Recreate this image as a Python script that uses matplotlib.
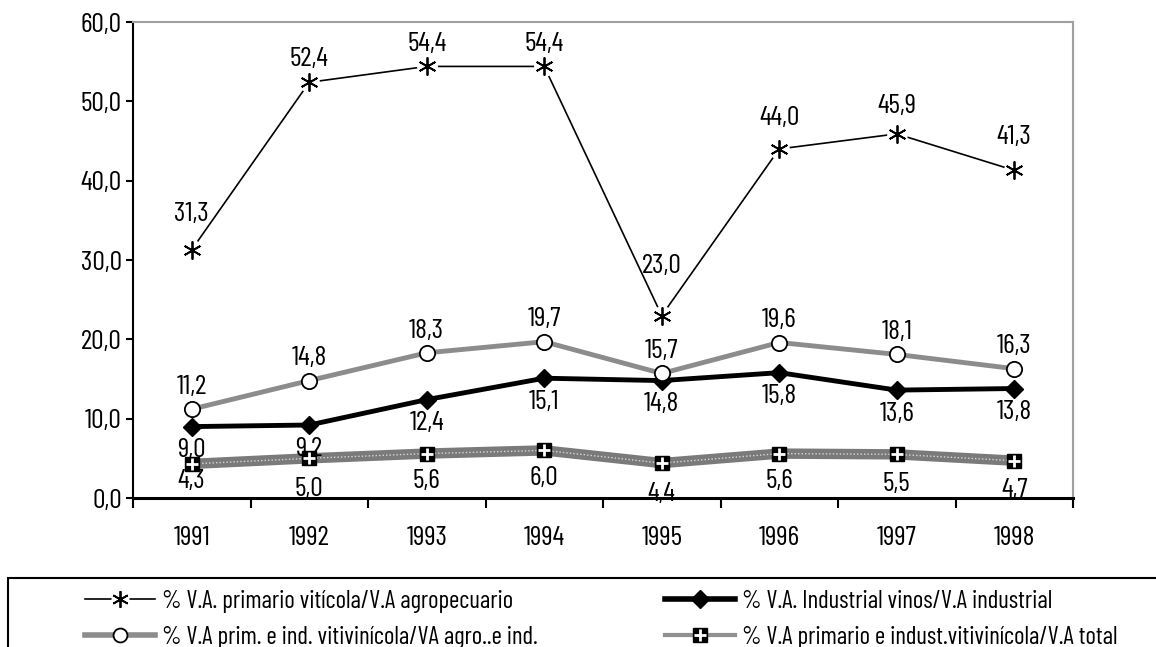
import matplotlib
matplotlib.use("Agg")
import matplotlib.pyplot as plt
from matplotlib.lines import Line2D
from matplotlib.patches import Rectangle

plt.rcParams['font.family'] = ['Barlow Condensed', 'Archivo Narrow', 'DejaVu Sans']

years = ['1991', '1992', '1993', '1994', '1995', '1996', '1997', '1998']
primario_viticola = [31.3, 52.4, 54.4, 54.4, 23.0, 44.0, 45.9, 41.3]
prim_ind_vitivinicola = [11.2, 14.8, 18.3, 19.7, 15.7, 19.6, 18.1, 16.3]
industrial_vinos = [9.0, 9.2, 12.4, 15.1, 14.8, 15.8, 13.6, 13.8]
prim_indust_total = [4.3, 5.0, 5.6, 6.0, 4.4, 5.6, 5.5, 4.7]

labels = ['% V.A. primario vitícola/V.A agropecuario',
          '% V.A prim. e ind. vitivinícola/VA agro..e ind.',
          '% V.A. Industrial vinos/V.A industrial',
          '% V.A primario e indust.vitivinícola/V.A total']

def fmt(v):
    return f"{v:.1f}".replace('.', ',')

x = list(range(1, len(years) + 1))

fig = plt.figure(figsize=(11.56, 6.47), dpi=100)
ax = fig.add_axes([133/1156, 1 - 498/647, (1073 - 133)/1156, (498 - 22)/647])

# series 4: textured grey band with black squares + white plus
ax.plot(x, prim_indust_total, color='#7a7a7a', lw=7.5, solid_capstyle='butt', zorder=2)
ax.plot(x, prim_indust_total, color='#d8d8d8', lw=1, ls=(0, (1, 1.5)), zorder=2)
ax.plot(x, prim_indust_total, ls='none', marker='s', ms=10, color='black', zorder=5)
ax.plot(x, prim_indust_total, ls='none', marker='+', ms=8, mew=2, color='white', zorder=6)

# series 3: thick black with diamonds
ax.plot(x, industrial_vinos, color='black', lw=3.5, marker='D', ms=9, zorder=3)

# series 2: grey thick with open circles
ax.plot(x, prim_ind_vitivinicola, color='#8c8c8c', lw=3.5, marker='o', ms=11,
        mfc='white', mec='black', mew=1.3, zorder=3)

# series 1: thin black with asterisks (gap around marker)
ax.plot(x, primario_viticola, color='black', lw=1.2, zorder=3)
ax.plot(x, primario_viticola, ls='none', marker='o', ms=15, mfc='white', mec='none', zorder=4)
ax.plot(x, primario_viticola, ls='none', marker=(6, 2, 0), ms=13, mew=1.3, color='black', zorder=5)

fs = 20
s1_off = [26, 17, 16, 16, 36, 22, 20, 24]
for xi, v, o in zip(x, primario_viticola, s1_off):
    ax.annotate(fmt(v), (xi, v), xytext=(0, o), textcoords='offset points',
                ha='center', va='center', fontsize=fs)
for xi, v in zip(x, prim_ind_vitivinicola):
    ax.annotate(fmt(v), (xi, v), xytext=(0, 16), textcoords='offset points',
                ha='center', va='center', fontsize=fs)
for xi, v in zip(x, industrial_vinos):
    ax.annotate(fmt(v), (xi, v), xytext=(0, -17), textcoords='offset points',
                ha='center', va='center', fontsize=fs)
s4_off = [-12, -22, -20, -20, -22, -20, -21, -21]
for xi, v, o in zip(x, prim_indust_total, s4_off):
    ax.annotate(fmt(v), (xi, v), xytext=(0, o), textcoords='offset points',
                ha='center', va='center', fontsize=fs)

ax.set_xlim(0.5, len(years) + 0.5)
ax.set_ylim(0, 60)
ax.set_yticks(range(0, 61, 10))
ax.set_yticklabels([fmt(v) for v in range(0, 61, 10)], fontsize=fs)
ax.tick_params(axis='y', length=5, width=1.5, pad=3)

ax.set_xticks([i + 0.5 for i in range(0, len(years) + 1)])
ax.set_xticklabels([])
ax.tick_params(axis='x', which='major', length=7, width=1.5, direction='out')
ax.set_xticks(x, minor=True)
ax.set_xticklabels(years, minor=True, fontsize=fs)
ax.tick_params(axis='x', which='minor', length=0, pad=20)

for s in ['top', 'right']:
    ax.spines[s].set_color('#a0a0a0')
    ax.spines[s].set_linewidth(1.5)
ax.spines['left'].set_linewidth(1.5)
ax.spines['bottom'].set_linewidth(2.2)

# legend
h1a = Line2D([], [], color='black', lw=1.2)
h1b = Line2D([], [], ls='none', marker='o', ms=13, mfc='white', mec='none')
h1c = Line2D([], [], ls='none', marker=(6, 2, 0), ms=12, mew=1.3, color='black')
h2 = Line2D([], [], color='#8c8c8c', lw=4, marker='o', ms=10, mfc='white', mec='black', mew=1.3)
h3 = Line2D([], [], color='black', lw=4, marker='D', ms=9)
h4a = Line2D([], [], color='#909090', lw=3, marker='s', ms=10, mfc='black', mec='black')
h4b = Line2D([], [], ls='none', marker='+', ms=8, mew=2, color='white')

lfs = 18
common = dict(loc='upper left', frameon=False, fontsize=lfs, borderpad=0, borderaxespad=0,
              handlelength=2.8, handletextpad=0.28, labelspacing=0.52)
fig.legend([(h1a, h1b, h1c), h2], labels[:2], bbox_to_anchor=(85/1156, 1 - 590/647), **common)
fig.legend([h3, (h4a, h4b)], labels[2:], bbox_to_anchor=(665/1156, 1 - 590/647), **common)

fig.add_artist(Rectangle((8/1156, -0.2), 1.2, 0.2 + 1 - 578/647, transform=fig.transFigure,
                         fill=False, lw=1.5, edgecolor='black', clip_on=False))

fig.savefig('out.png', dpi=100)
